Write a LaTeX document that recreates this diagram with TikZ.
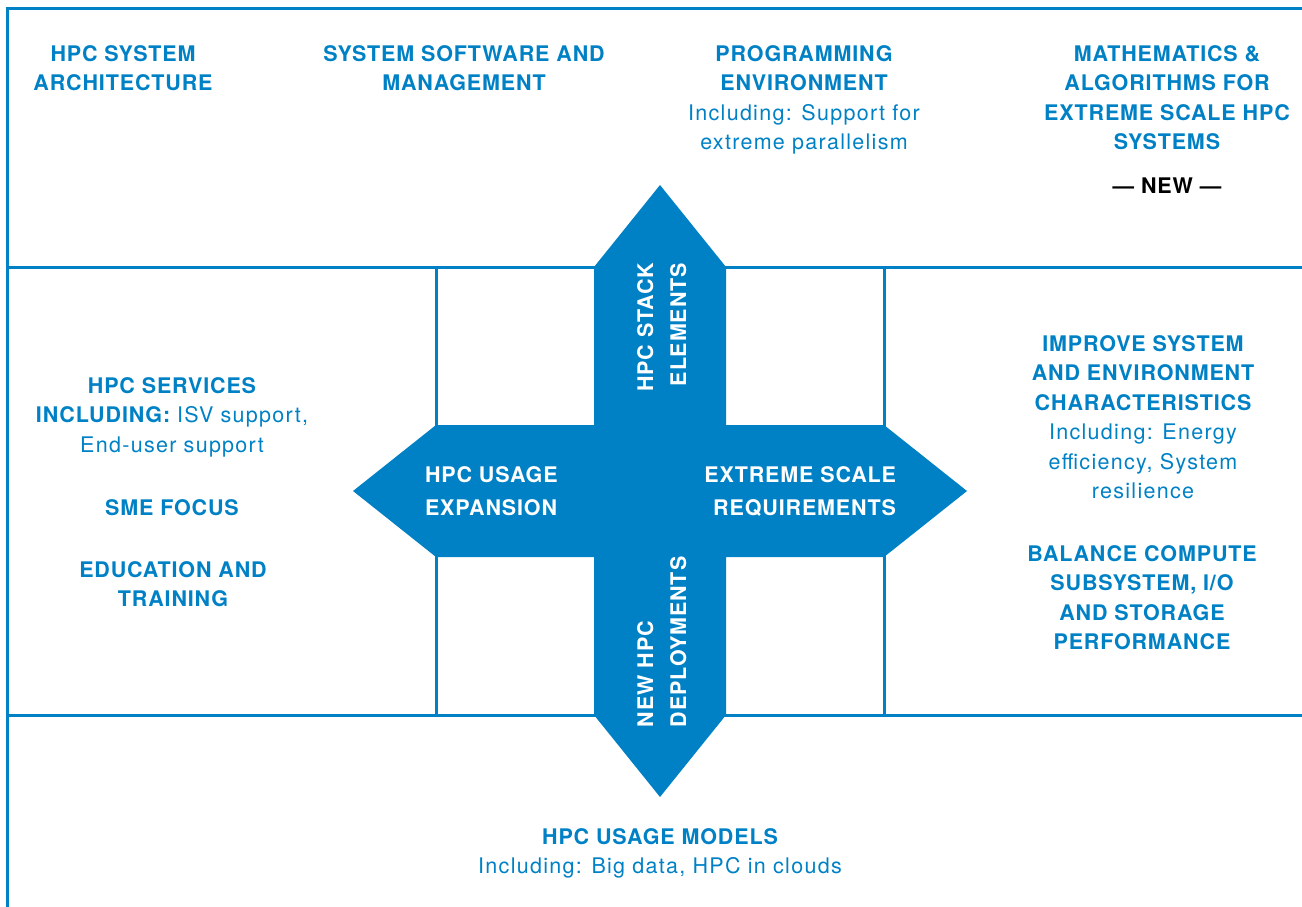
\documentclass[tikz,border=0pt]{standalone}
\usepackage{fontspec}
\setmainfont{TeX Gyre Heros}
\newfontfamily\hfam[LetterSpace=4]{TeX Gyre Heros}
\newfontfamily\rfam[LetterSpace=6]{TeX Gyre Heros}
\newcommand\rgtxt{\rfam\mdseries}
\definecolor{hpcblue}{RGB}{0,129,197}
\tikzset{
  txt/.style={inner sep=0pt, outer sep=0pt, align=center, anchor=north, text=hpcblue,
    font=\hfam\fontsize{21.5}{29.5}\selectfont\bfseries},
  arrtxt/.style={inner sep=0pt, outer sep=0pt, text=white,
    font=\hfam\fontsize{21.5}{33}\selectfont\bfseries},
  grid/.style={draw=hpcblue, line width=3pt},
}
\begin{document}
\begin{tikzpicture}[x=1pt,y=-1pt]
\useasboundingbox (0,0) rectangle (1302,907);
% frame and grid
\draw[grid] (1302,9) -- (7,9) -- (7,907);
\draw[grid] (7,267) -- (1302,267);
\draw[grid] (7,715) -- (1302,715);
\draw[grid] (436,267) -- (436,715);
\draw[grid] (884,267) -- (884,715);
% cross of arrows
\fill[hpcblue] (594,267) -- (660,185) -- (726,267) -- (726,425) -- (884,425) -- (967,491)
  -- (884,557) -- (726,557) -- (726,715) -- (660,797) -- (594,715) -- (594,557)
  -- (436,557) -- (353,491) -- (436,425) -- (594,425) -- cycle;
% top row
\node[txt] (arch) at (123,45.3) {HPC SYSTEM\\ARCHITECTURE};
\node[txt] (soft) at (464,45.3) {SYSTEM SOFTWARE AND\\MANAGEMENT};
\node[txt] (prog) at (804,45.3) {PROGRAMMING\\ENVIRONMENT\\\rgtxt Including: Support for\\\rgtxt extreme parallelism};
\node[txt] (math) at (1167,45.3) {MATHEMATICS \&\\ALGORITHMS FOR\\EXTREME SCALE HPC\\SYSTEMS};
\node[txt, text=black] (new) at (1167,178.3) {— NEW —};
% left column
\node[txt] (serv) at (172,377.3) {HPC SERVICES\\INCLUDING: {\rgtxt ISV support,}\\\rgtxt End-user support};
\node[txt] (sme) at (172,499.3) {SME FOCUS};
\node[txt] (edu) at (173,561.3) {EDUCATION AND\\TRAINING};
% right column
\node[txt] (impr) at (1143,335.3) {IMPROVE SYSTEM\\AND ENVIRONMENT\\CHARACTERISTICS\\\rgtxt Including: Energy\\\rgtxt efficiency, System\\\rgtxt resilience};
\node[txt] (bal) at (1142,545.3) {BALANCE COMPUTE\\SUBSYSTEM, I/O\\AND STORAGE\\PERFORMANCE};
% bottom
\node[txt] (usage) at (660,828.3) {HPC USAGE MODELS\\\rgtxt Including: Big data, HPC in clouds};
% arrow labels
\node[arrtxt, align=left, anchor=north west] (expan) at (425,466.3) {HPC USAGE\\EXPANSION};
\node[arrtxt, align=right, anchor=north east] (extreme) at (896,466.3) {EXTREME SCALE\\REQUIREMENTS};
\node[arrtxt, align=right, anchor=north east, rotate=90] (stack) at (637.3,263) {HPC STACK\\ELEMENTS};
\node[arrtxt, align=left, anchor=north west, rotate=90] (deploy) at (637.3,727) {NEW HPC\\DEPLOYMENTS};
\end{tikzpicture}
\end{document}
